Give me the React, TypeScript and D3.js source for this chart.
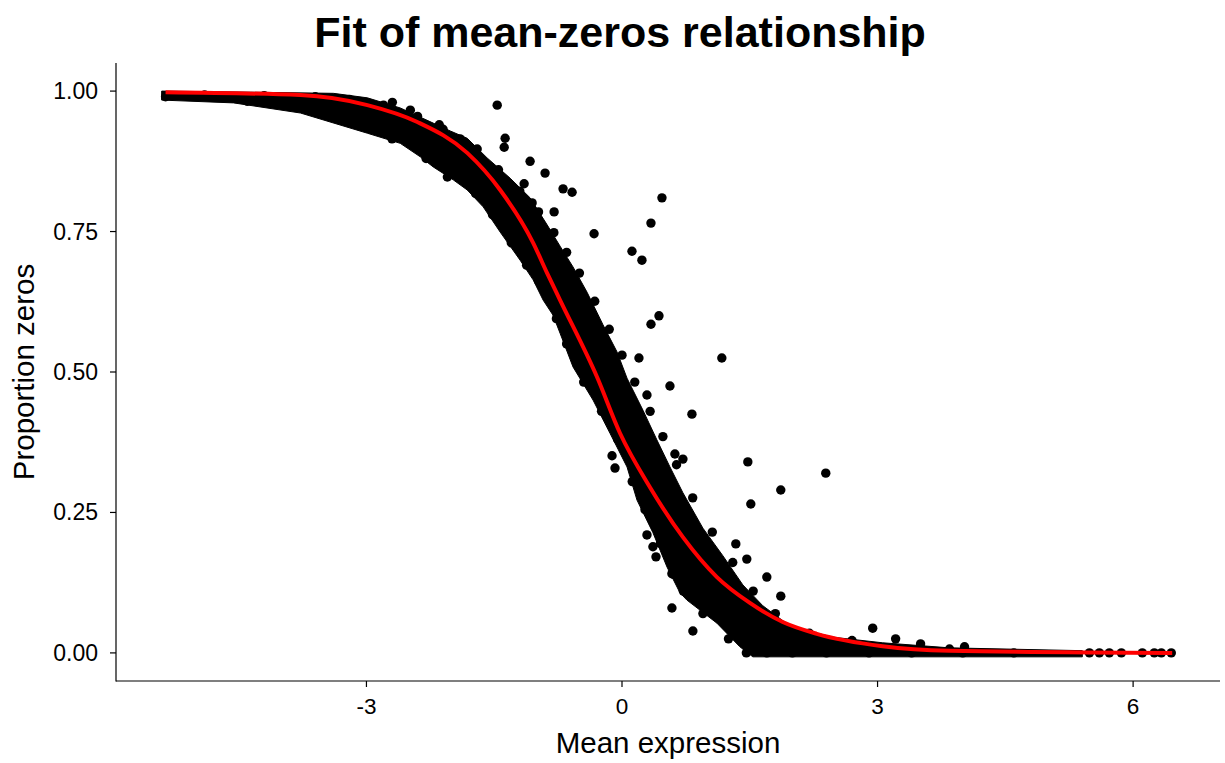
import React from "react";
import * as d3 from "d3";

// ---- Data ----
const xTicks = [-3, 0, 3, 6];
const xTickLabels = ["-3", "0", "3", "6"];
const yTicks = [0, 0.25, 0.5, 0.75, 1];
const yTickLabels = ["0.00", "0.25", "0.50", "0.75", "1.00"];

// Upper (top/right) boundary of the dense cloud of genes
const bandUpper: [number, number][] = [
  [-5.404, 1.0], [-4.361, 0.998], [-3.388, 0.996], [-2.989, 0.988], [-2.603, 0.97],
  [-2.216, 0.943], [-2.016, 0.929], [-1.817, 0.916], [-1.583, 0.881], [-1.313, 0.845],
  [-1.079, 0.81], [-0.879, 0.762], [-0.727, 0.724], [-0.575, 0.687], [-0.41, 0.642],
  [-0.223, 0.584], [-0.059, 0.536], [0.059, 0.489], [0.246, 0.432], [0.41, 0.379],
  [0.563, 0.331], [0.715, 0.285], [0.95, 0.222], [1.184, 0.173], [1.419, 0.121],
  [1.653, 0.084], [1.97, 0.048], [2.474, 0.028], [3.06, 0.018], [3.845, 0.009],
  [5.404, 0.004],
];

// Lower (bottom/left) boundary of the dense cloud
const bandLower: [number, number][] = [
  [-5.404, 0.984], [-4.56, 0.979], [-3.775, 0.961], [-2.989, 0.925], [-2.603, 0.907],
  [-2.368, 0.883], [-2.216, 0.865], [-1.981, 0.842], [-1.817, 0.824], [-1.63, 0.794],
  [-1.43, 0.749], [-1.196, 0.699], [-1.043, 0.664], [-0.926, 0.628], [-0.809, 0.601],
  [-0.727, 0.569], [-0.575, 0.509], [-0.34, 0.45], [-0.141, 0.391], [0.059, 0.331],
  [0.176, 0.272], [0.363, 0.214], [0.528, 0.153], [0.68, 0.107], [0.762, 0.094],
  [1.114, 0.053], [1.383, 0.011], [1.536, -0.007], [5.404, -0.007],
];

// Genes sitting on the rim of the cloud (give it its grainy edge)
const rimX = [
  -4.9, -4.2, -3.6, -3.2, -2.8, -2.4, -2.1, -1.9, -1.7, -1.45, -1.2, -0.98, -0.8, -0.65,
  -0.5, -0.32, -0.15, 0.0, 0.15, 0.33, 0.48, 0.64, 0.83, 1.06, 1.3, 1.54, 1.8, 2.2, 2.7,
  -4.4, -3.4, -2.7, -2.3, -2.05, -1.72, -1.52, -1.3, -1.12, -0.98, -0.86, -0.77, -0.65,
  -0.45, -0.24, -0.05, 0.12, 0.27, 0.45, 0.6, 0.72, 0.95, 1.25, 1.46, 1.7, 2.0, 2.4, 2.9,
  3.4, 4.0, 4.6,
];
const rimY = [
  0.993, 0.992, 0.99, 0.985, 0.975, 0.955, 0.932, 0.915, 0.897, 0.86, 0.822, 0.785, 0.748,
  0.713, 0.676, 0.626, 0.576, 0.53, 0.482, 0.43, 0.385, 0.335, 0.276, 0.215, 0.161, 0.11,
  0.07, 0.035, 0.022,
  0.982, 0.957, 0.915, 0.88, 0.847, 0.818, 0.78, 0.73, 0.69, 0.662, 0.633, 0.595, 0.55,
  0.482, 0.43, 0.38, 0.305, 0.255, 0.195, 0.14, 0.11, 0.07, 0.025, 0.0, 0.0, 0.0, 0.0, 0.0,
  0.0, 0.0, 0.0,
];

// Individual genes visible outside the dense cloud
const outlierX = [
  -5.358, -2.696, -2.485, -2.145, -1.465, -1.372, -1.383, -1.079, -0.903, -1.149,
  -0.692, -0.586, 0.469, -1.055, -0.797, 0.34, -0.328, 0.117, 0.234, 0.434,
  0.34, 0.199, 1.172, 0.563, 0.293, 0.821, 1.477, 2.392, 1.864, 1.512,
  0.621, 0.715, -0.117, -0.082, 0.293, 0.363, 0.399, 0.586, 0.586, 0.832,
  1.336, 1.465, 1.7, 1.864, 2.943, 3.212, 3.505, 3.845, 4.021, 5.487,
  5.604, 5.721, 5.862, 6.108, 6.249, 6.331, 6.448,
];
const outlierY = [
  0.99, 0.98, 0.966, 0.94, 0.975, 0.916, 0.9, 0.875, 0.854, 0.835,
  0.826, 0.82, 0.81, 0.801, 0.785, 0.765, 0.746, 0.715, 0.699, 0.6,
  0.585, 0.525, 0.525, 0.475, 0.459, 0.425, 0.34, 0.32, 0.29, 0.265,
  0.354, 0.345, 0.351, 0.329, 0.21, 0.189, 0.171, 0.141, 0.08, 0.039,
  0.194, 0.167, 0.135, 0.101, 0.044, 0.025, 0.016, 0.007, 0.011, 0.0,
  0.0, 0.0, 0.0, 0.0, 0.0, 0.0, 0.0,
];

// Fitted mean–zeros curve
const fitX = [
  -5.358, -3.775, -2.989, -2.403, -1.817, -1.43, -1.043, -0.879, -0.727, -0.293,
  -0.023, 0.328, 0.715, 1.114, 1.501, 1.887, 2.286, 3.06, 3.845, 6.459,
];
const fitY = [
  0.998, 0.993, 0.975, 0.945, 0.89, 0.824, 0.73, 0.676, 0.628, 0.491,
  0.391, 0.295, 0.206, 0.135, 0.089, 0.055, 0.034, 0.012, 0.004, 0.0,
];

const W = 1225;
const H = 763;
const M = { left: 116, right: 1220, top: 63, bottom: 681 };

export default function App() {
  const x = d3.scaleLinear().domain([-5.94, 7.02]).range([M.left, M.right]);
  const y = d3.scaleLinear().domain([-0.05, 1.05]).range([M.bottom, M.top]);

  const poly = [...bandUpper, ...bandLower.slice().reverse()];
  const bandPath = d3
    .line<[number, number]>()
    .x((d) => x(d[0]))
    .y((d) => y(d[1]))
    .curve(d3.curveLinearClosed)(poly) as string;

  const fitPts = fitX.map((v, i) => [v, fitY[i]] as [number, number]);
  const fitPath = d3
    .line<[number, number]>()
    .x((d) => x(d[0]))
    .y((d) => y(d[1]))
    .curve(d3.curveMonotoneX)(fitPts) as string;

  const font = "'Liberation Sans', Arial, Helvetica, sans-serif";
  const R = 4.7;

  return (
    <svg
      width={W}
      height={H}
      style={{ position: "absolute", left: 0, top: 0, background: "#fff" }}
      fontFamily={font}
    >
      <rect width={W} height={H} fill="#fff" />
      {/* title */}
      <text x={620} y={47} textAnchor="middle" fontSize={43} fontWeight="bold" fill="#000">
        Fit of mean-zeros relationship
      </text>

      {/* points */}
      <path d={bandPath} fill="#000" stroke="#000" strokeWidth={1} strokeLinejoin="round" />
      {rimX.map((v, i) => (
        <circle key={"r" + i} cx={x(v)} cy={y(rimY[i])} r={R} fill="#000" />
      ))}
      {outlierX.map((v, i) => (
        <circle key={i} cx={x(v)} cy={y(outlierY[i])} r={R} fill="#000" />
      ))}

      {/* fit */}
      <path d={fitPath} fill="none" stroke="#FF0000" strokeWidth={4} strokeLinecap="butt" />

      {/* axes */}
      <line x1={M.left} x2={M.right} y1={M.bottom} y2={M.bottom} stroke="#000" strokeWidth={1.2} />
      <line x1={M.left} x2={M.left} y1={M.top} y2={M.bottom + 0.6} stroke="#000" strokeWidth={1.2} />
      {xTicks.map((t, i) => (
        <g key={"xt" + i}>
          <line x1={x(t)} x2={x(t)} y1={M.bottom} y2={M.bottom + 6} stroke="#000" strokeWidth={1.2} />
          <text x={x(t)} y={714} textAnchor="middle" fontSize={22.5} fill="#000">
            {xTickLabels[i]}
          </text>
        </g>
      ))}
      {yTicks.map((t, i) => (
        <g key={"yt" + i}>
          <line x1={M.left - 6} x2={M.left} y1={y(t)} y2={y(t)} stroke="#000" strokeWidth={1.2} />
          <text x={98} y={y(t) + 8} textAnchor="end" fontSize={23} fill="#000">
            {yTickLabels[i]}
          </text>
        </g>
      ))}

      {/* axis titles */}
      <text x={668} y={753} textAnchor="middle" fontSize={29.5} fill="#000">
        Mean expression
      </text>
      <text
        transform={`translate(34, 372) rotate(-90)`}
        textAnchor="middle"
        fontSize={29.5}
        fill="#000"
      >
        Proportion zeros
      </text>
    </svg>
  );
}
